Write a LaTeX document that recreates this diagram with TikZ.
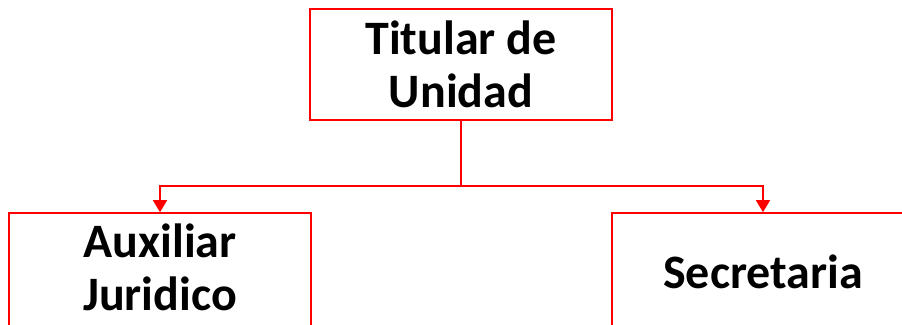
\documentclass[tikz,border=0pt]{standalone}
\usepackage{fontspec}
\setmainfont{Carlito}
\usetikzlibrary{arrows.meta}
\begin{document}
\begin{tikzpicture}[x=1pt,y=-1pt,
    cargo/.style={draw=red,line width=1.6pt,minimum width=302pt,align=center,
      inner sep=0pt,font=\fontsize{48}{53}\selectfont\bfseries},
    enlace/.style={draw=red,line width=1.6pt},
    flecha/.style={enlace,-{Triangle[width=14pt,length=12pt]}}]
    % area visible
    \useasboundingbox (0,0) rectangle (902,324);
    \clip (0,0) rectangle (902,324);

    % cajas
    \node[cargo,minimum height=111pt] (titular) at (461,64.5) {Titular de\\Unidad};
    \node[cargo,minimum height=117pt,text depth=8pt] (auxiliar) at (160,271.5) {Auxiliar\\Juridico};
    \node[cargo,minimum height=117pt] (secretaria) at (763,271.5) {Secretaria};

    % conectores
    \coordinate (union) at (461,186);
    \draw[enlace] (titular.south) -- (union);
    \draw[flecha] (union) -| (auxiliar.north);
    \draw[flecha] (union) -| (secretaria.north);
\end{tikzpicture}
\end{document}
